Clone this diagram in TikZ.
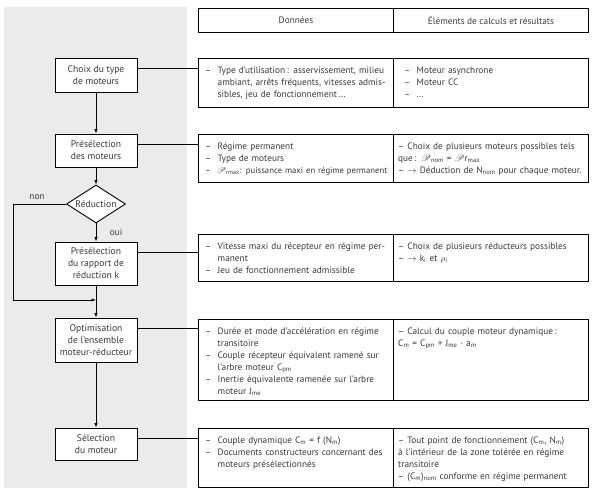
\documentclass[tikz,border=0pt]{standalone}
\usepackage{fontspec}
\setmainfont{PT Sans}
\usepackage{mathrsfs}
\usepackage{graphicx}
\usetikzlibrary{arrows.meta,shapes.geometric,calc}
\definecolor{bgcol}{HTML}{EBEBEB}
\definecolor{txtcol}{HTML}{383838}
\newlength\cw
\newcommand\dsh{\makebox[12.5pt][l]{–}}
\newcommand\JL[1]{\makebox[\cw][s]{#1}}
\newcommand\JC[1]{\hspace*{12.5pt}\makebox[\dimexpr\cw-12.5pt\relax][s]{#1}}
\newcommand\NC[1]{\hspace*{12.5pt}#1}
\newcommand\sub[1]{\textsubscript{#1}}
\newcommand\sP{$\mathscr{P}$}
\begin{document}
\begin{tikzpicture}[x=1pt,y=-1pt,
  flowbox/.style={draw, fill=white, line width=0.9pt, minimum width=82pt, inner sep=2pt,
    align=center, text=txtcol, font=\fontsize{9.6}{12}\selectfont},
  cell/.style={draw, line width=0.9pt, inner sep=0pt, anchor=north west},
  celltxt/.style={inner sep=0pt, anchor=north west, align=left, text=txtcol,
    font=\fontsize{9.3}{12}\selectfont},
  lefttxt/.style={celltxt, text width=182pt, execute at begin node={\setlength\cw{182pt}}},
  righttxt/.style={celltxt, text width=187pt, execute at begin node={\setlength\cw{187pt}}},
  conn/.style={line width=0.8pt},
  arr/.style={line width=0.8pt, -{Latex[length=4.5pt,width=3.5pt]}},
  lbl/.style={inner sep=0pt, text=txtcol, font=\fontsize{9.3}{12}\selectfont}
]
\useasboundingbox (0,0) rectangle (594,496);
\fill[bgcol] (4,7) rectangle (187,488);

% flowchart
\node[flowbox, minimum height=34pt] (b1) at (96,75) {Choix du type\\de moteurs};
\node[flowbox, minimum height=33pt] (b2) at (96,150.5) {Présélection\\des moteurs};
\node[draw, fill=white, line width=0.9pt, diamond, aspect=1.55, minimum width=59pt,
  minimum height=38pt, inner sep=0pt, text=txtcol, font=\fontsize{9.6}{12}\selectfont] (d) at (96,204) {Réduction};
\node[flowbox, minimum height=43pt] (b3) at (96,263.5) {Présélection\\du rapport de\\réduction k};
\node[flowbox, minimum height=44pt] (b4) at (96,340) {Optimisation\\de l’ensemble\\moteur-réducteur};
\node[flowbox, minimum height=32pt] (b5) at (96,444) {Sélection\\du moteur};

\draw[arr] (b1.south) -- (b2.north);
\draw[arr] (b2.south) -- (d.north);
\draw[arr] (d.south) -- (b3.north);
\draw[arr] (b3.south) -- (b4.north);
\draw[arr] (b4.south) -- (b5.north);
\coordinate (j) at (96,300);
\coordinate (nc) at (13,204);
\draw[arr] (d.west) -- (nc) |- (j);
\node[lbl] (non) at (37,197) {non};
\node[lbl] (oui) at (116,232) {oui};

% table header
\node[cell, minimum width=195pt, minimum height=24pt] (h1) at (198,8) {};
\node[cell, minimum width=195pt, minimum height=24pt] (h2) at (393,8) {};
\node[lbl] (h1t) at (h1.center) {Données};
\node[lbl] (h2t) at (h2.center) {Éléments de calculs et résultats};

% rows
\node[cell, minimum width=195pt, minimum height=49pt] (r1l) at (198,58) {};
\node[cell, minimum width=195pt, minimum height=49pt] (r1r) at (393,58) {};
\node[cell, minimum width=195pt, minimum height=48pt] (r2l) at (198,134) {};
\node[cell, minimum width=195pt, minimum height=48pt] (r2r) at (393,134) {};
\node[cell, minimum width=195pt, minimum height=47pt] (r3l) at (198,234) {};
\node[cell, minimum width=195pt, minimum height=47pt] (r3r) at (393,234) {};
\node[cell, minimum width=195pt, minimum height=81pt] (r4l) at (198,319) {};
\node[cell, minimum width=195pt, minimum height=81pt] (r4r) at (393,319) {};
\node[cell, minimum width=195pt, minimum height=59pt] (r5l) at (198,428) {};
\node[cell, minimum width=195pt, minimum height=59pt] (r5r) at (393,428) {};

% connectors
\foreach \b/\r in {b1/r1l,b2/r2l,b3/r3l,b4/r4l,b5/r5l}{
  \path ([yshift=-10.5pt]\b.north east) coordinate (c\b);
  \draw[conn] (c\b) -- (c\b -| \r.west);
}

% texts
\node[lefttxt] (t1l) at (205,64.6) {\strut\JL{\dsh Type d’utilisation\,: asservissement, milieu}\\
\JC{ambiant, arrêts fréquents, vitesses admis-}\\
\NC{sibles, jeu de fonctionnement\,…}};
\node[righttxt] (t1r) at (404,64.6) {\strut\dsh Moteur asynchrone\\ \dsh Moteur CC\\ \dsh …};

\node[lefttxt] (t2l) at (205,140.6) {\strut\dsh Régime permanent\\ \dsh Type de moteurs\\
\resizebox{182pt}{!}{\mbox{\dsh\sP\sub{rmax}: puissance maxi en régime permanent}}};
\node[righttxt] (t2r) at (398,140.6) {\strut\JL{– Choix de plusieurs moteurs possibles tels}\\
que\,: \sP\sub{nom} = \sP r\sub{max}\\
\mbox{– $\rightarrow$ Déduction de N\sub{nom} pour chaque moteur.}};

\node[lefttxt] (t3l) at (205,240.6) {\strut\JL{\dsh Vitesse maxi du récepteur en régime per-}\\
\NC{manent}\\ \dsh Jeu de fonctionnement admissible};
\node[righttxt] (t3r) at (398,240.6) {\strut – Choix de plusieurs réducteurs possibles\\
– $\rightarrow$ k\sub{i} et $\rho$\sub{i}};

\node[lefttxt] (t4l) at (205,325.6) {\strut\JL{\dsh Durée et mode d’accélération en régime}\\
\NC{transitoire}\\
\JL{\dsh Couple récepteur équivalent ramené sur}\\
\NC{l’arbre moteur C\sub{pm}}\\
\JL{\dsh Inertie équivalente ramenée sur l’arbre}\\
\NC{moteur J\sub{me}}};
\node[righttxt] (t4r) at (398,325.6) {\strut – Calcul du couple moteur dynamique\,:\\
C\sub{m} = C\sub{pm} + J\sub{me} · a\sub{m}};

\node[lefttxt] (t5l) at (205,434.6) {\strut\dsh Couple dynamique C\sub{m} = f (N\sub{m})\\
\JL{\dsh Documents constructeurs concernant des}\\
\NC{moteurs présélectionnés}};
\node[righttxt] (t5r) at (398,434.6) {\strut\JL{– Tout point de fonctionnement (C\sub{m}, N\sub{m})}\\
\JL{à l’intérieur de la zone tolérée en régime}\\
transitoire\\
– (C\sub{m})\sub{nom} conforme en régime permanent};
\end{tikzpicture}
\end{document}
